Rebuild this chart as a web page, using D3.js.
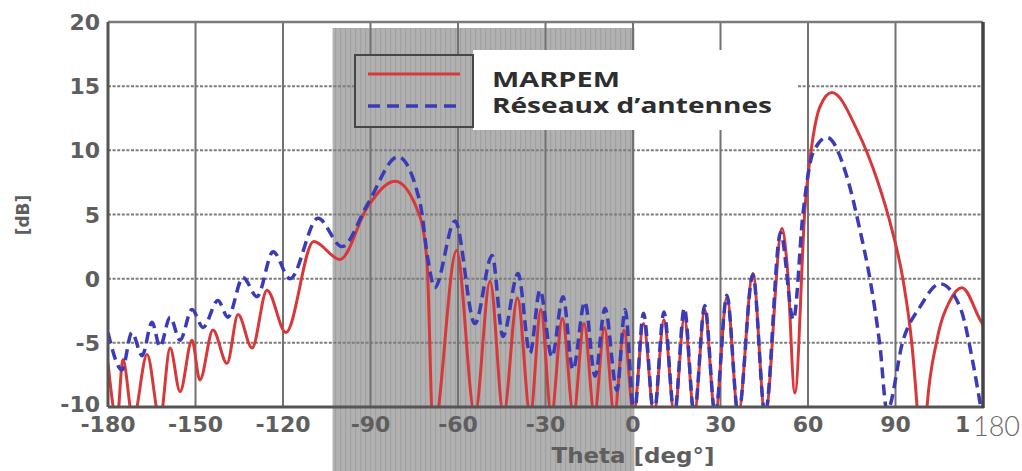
<!DOCTYPE html>
<html>
<head>
<meta charset="utf-8">
<script src="https://cdn.jsdelivr.net/npm/d3@7/dist/d3.min.js"></script>
<style>
  html, body { margin: 0; padding: 0; background: #fff; }
  svg { display: block; }
</style>
</head>
<body>
<svg id="chart" width="1022" height="471"></svg>
<script>
// Radiation pattern: MARPEM vs antenna array, gain [dB] against Theta [deg]
const thetaTicks = [-180, -150, -120, -90, -60, -30, 0, 30, 60, 90];
const thetaTickLabels = ["-180", "-150", "-120", "-90", "-60", "-30", "0", "30", "60", "90"];
const dbTicks = [-10, -5, 0, 5, 10, 15, 20];
const dbTickLabels = ["-10", "-5", "0", "5", "10", "15", "20"];
const thetaDomain = [-180, 120];
const dbDomain = [-10, 20];
const shadedSector = [-103, 0.5];
const seriesNames = ["MARPEM", "Réseaux d’antennes"];
const xCaption = "Theta [deg°]";
const yCaption = "[dB]";
const lastTickStub = "1";      // remaining digit of the original end label
const lastTickOverlay = "180";  // label written over the end of the axis

const marpemTheta = [-180, -176.9, -174.9, -171.4, -166.6, -162.2, -158.7, -155.3, -151.2, -148.5,
  -144.0, -139.2, -135.4, -130.6, -125.5, -119.0, -109.5, -100.5, -91.0, -81.6,
  -73.0, -70.6, -68.5, -60.5, -54.2, -49.0, -44.4, -39.6, -35.2, -31.6,
  -28.0, -24.2, -20.4, -16.8, -13.2, -9.8, -6.4, -3.1, 0.2, 3.6,
  7.2, 10.6, 14.2, 17.6, 21.0, 24.6, 28.2, 32.2, 36.1, 41.1,
  45.3, 51.1, 52.9, 55.5, 59.0, 61.7, 64.1, 68.2, 76.8, 83.7,
  88.8, 92.6, 95.7, 97.4, 99.1, 100.8, 104.2, 108.7, 112.8, 119.0, 120.0];
const marpemDb = [-6.6, -11, -6.3, -11, -5.9, -11, -5.4, -8.8, -4.8, -7.9,
  -4.0, -6.6, -2.8, -5.4, -0.9, -4.2, 2.9, 1.5, 5.6, 7.6,
  4.8, 1.2, -12, 2.2, -10.6, -0.2, -10.6, -1.5, -10.6, -2.4,
  -10.6, -3.1, -10.6, -3.5, -10.6, -3.8, -10.6, -4.0, -10.6, -3.5,
  -10.6, -3.2, -10.6, -3.0, -10.6, -2.4, -10.6, -1.4, -10.6, 0.4,
  -10.6, 3.9, 0.9, -8.9, 5.6, 11.0, 13.4, 14.5, 11.6, 7.7,
  3.8, -0.1, -5.3, -10, -16, -10, -4.8, -1.7, -0.7, -3.2, -3.6];

const reseauTheta = [-180, -175.2, -171.8, -168.3, -164.9, -162.2, -158.7, -155.3, -151.2, -147.4,
  -142.3, -138.9, -133.7, -128.9, -123.4, -117.6, -108.0, -99.8, -91.0, -80.6,
  -73.0, -70.3, -68.0, -61.0, -54.2, -48.3, -44.6, -39.4, -35.3, -31.9,
  -27.8, -24.0, -20.6, -16.5, -13.0, -9.6, -5.5, -2.7, 0.4, 3.6,
  7.2, 10.6, 14.2, 17.6, 21.0, 24.6, 28.2, 32.2, 36.1, 41.1,
  45.3, 50.6, 55.0, 58.3, 61.7, 66.5, 73.4, 77.8, 81.3, 84.7,
  87.1, 92.6, 98.4, 105.3, 112.1, 116.6, 119.0, 120.0];
const reseauDb = [-4.2, -7.1, -4.2, -6.0, -3.4, -5.3, -3.0, -4.8, -2.4, -3.8,
  -1.7, -3.0, 0.1, -1.4, 2.1, 0.0, 4.7, 2.5, 5.8, 9.5,
  5.9, 1.5, -0.7, 4.5, -3.5, 1.8, -4.5, 0.4, -5.8, -0.9,
  -6.1, -1.4, -7.1, -1.8, -7.6, -2.3, -8.7, -2.4, -10.6, -2.7,
  -10.6, -2.6, -10.6, -2.3, -10.6, -2.1, -10.6, -1.3, -10.6, 0.3,
  -10.6, 3.6, -3.2, 5.1, 9.8, 11.0, 7.9, 3.8, -0.1, -5.3,
  -10.3, -4.8, -2.2, -0.4, -2.2, -6.6, -9.7, -11];

const plot = { left: 108, right: 983, top: 22, bottom: 407 };
const svg = d3.select("#chart");

const x = d3.scaleLinear().domain(thetaDomain).range([plot.left, plot.right]);
const y = d3.scaleLinear().domain(dbDomain).range([plot.bottom, plot.top]);

const defs = svg.append("defs");
const stripes = defs.append("pattern")
  .attr("id", "sectorStripes").attr("patternUnits", "userSpaceOnUse")
  .attr("width", 5).attr("height", 10);
stripes.append("rect").attr("width", 5).attr("height", 10).attr("fill", "#b1b1b1");
stripes.append("rect").attr("width", 1.2).attr("height", 10).attr("fill", "#a1a1a1");

defs.append("clipPath").attr("id", "plotClip")
  .append("rect")
  .attr("x", plot.left).attr("y", plot.top)
  .attr("width", plot.right - plot.left).attr("height", plot.bottom - plot.top);

// shaded angular sector, running down past the axis labels
svg.append("rect")
  .attr("x", x(shadedSector[0])).attr("y", 28)
  .attr("width", x(shadedSector[1]) - x(shadedSector[0]))
  .attr("height", 471 - 28)
  .attr("fill", "url(#sectorStripes)");

// grid
const grid = svg.append("g");
grid.selectAll("line.h").data(dbTicks.filter(d => d > dbDomain[0] && d < dbDomain[1]))
  .join("line")
  .attr("x1", plot.left).attr("x2", plot.right)
  .attr("y1", d => y(d)).attr("y2", d => y(d))
  .attr("stroke", "#7c7c7c").attr("stroke-width", 2)
  .attr("stroke-dasharray", "3,1.6");
grid.selectAll("line.v").data(thetaTicks.filter(d => d > thetaDomain[0] && d < thetaDomain[1]))
  .join("line")
  .attr("x1", d => x(d)).attr("x2", d => x(d))
  .attr("y1", plot.top).attr("y2", plot.bottom)
  .attr("stroke", "#727272").attr("stroke-width", 2);

// curves
const line = d3.line()
  .x(d => x(d[0])).y(d => y(d[1]))
  .curve(d3.curveMonotoneX);
const curves = svg.append("g").attr("clip-path", "url(#plotClip)");
curves.append("path")
  .attr("d", line(d3.zip(marpemTheta, marpemDb)))
  .attr("fill", "none").attr("stroke", "#d7383a").attr("stroke-width", 3)
  .attr("stroke-linejoin", "round");
curves.append("path")
  .attr("d", line(d3.zip(reseauTheta, reseauDb)))
  .attr("fill", "none").attr("stroke", "#3b3bb8").attr("stroke-width", 3.5)
  .attr("stroke-dasharray", "11,6");

// frame
const frame = svg.append("g");
frame.append("line").attr("x1", plot.left).attr("x2", plot.right)
  .attr("y1", plot.top).attr("y2", plot.top).attr("stroke", "#7a7a7a").attr("stroke-width", 2.5);
frame.append("line").attr("x1", plot.left).attr("x2", plot.right + 1)
  .attr("y1", plot.bottom).attr("y2", plot.bottom).attr("stroke", "#555").attr("stroke-width", 3);
frame.append("line").attr("x1", plot.left).attr("x2", plot.left)
  .attr("y1", plot.top).attr("y2", plot.bottom).attr("stroke", "#555").attr("stroke-width", 3);
frame.append("line").attr("x1", plot.right).attr("x2", plot.right)
  .attr("y1", plot.top).attr("y2", plot.bottom + 1).attr("stroke", "#444").attr("stroke-width", 3.5);

// legend
svg.append("rect").attr("x", 473).attr("y", 50).attr("width", 324).attr("height", 80).attr("fill", "#fff");
const legend = svg.append("g");
legend.append("rect").attr("x", 355).attr("y", 55).attr("width", 118).attr("height", 72)
  .attr("fill", "url(#sectorStripes)").attr("stroke", "#464646").attr("stroke-width", 2);
legend.append("line").attr("x1", 368).attr("x2", 460).attr("y1", 74).attr("y2", 74)
  .attr("stroke", "#d7383a").attr("stroke-width", 3);
legend.append("line").attr("x1", 368).attr("x2", 460).attr("y1", 106).attr("y2", 106)
  .attr("stroke", "#3b3bb8").attr("stroke-width", 3.5).attr("stroke-dasharray", "12,7");
const legendWidths = [128, 280];
legend.selectAll("text").data(seriesNames).join("text")
  .attr("x", 492).attr("y", (d, i) => 87 + i * 26)
  .attr("font-family", "Open Sans, sans-serif").attr("font-weight", 700)
  .attr("font-size", 21).attr("fill", "#2e2e2e")
  .attr("textLength", (d, i) => legendWidths[i]).attr("lengthAdjust", "spacingAndGlyphs")
  .text(d => d);

// tick labels
const tickFont = "DejaVu Sans, sans-serif";
const tickFill = "#5e5e5e";
svg.append("g").selectAll("text").data(thetaTicks).join("text")
  .attr("x", d => x(d)).attr("y", 432)
  .attr("text-anchor", "middle")
  .attr("font-family", tickFont).attr("font-weight", 700).attr("font-size", 22)
  .attr("fill", tickFill)
  .text((d, i) => thetaTickLabels[i]);
svg.append("g").selectAll("text").data(dbTicks).join("text")
  .attr("x", 100).attr("y", d => y(d) + (d === dbDomain[0] ? 5 : 8))
  .attr("text-anchor", "end")
  .attr("font-family", tickFont).attr("font-weight", 700).attr("font-size", 22)
  .attr("fill", tickFill)
  .text((d, i) => dbTickLabels[i]);

// end of the theta axis: leftover digit, then the 180 written beside it
svg.append("text")
  .attr("x", 955).attr("y", 432)
  .attr("font-family", tickFont).attr("font-weight", 700).attr("font-size", 22)
  .attr("fill", tickFill)
  .text(lastTickStub);
svg.append("text")
  .attr("x", 973).attr("y", 436)
  .attr("font-family", "Lato, sans-serif").attr("font-weight", 300).attr("font-size", 28)
  .attr("fill", "#6a6a6a")
  .attr("textLength", 47).attr("lengthAdjust", "spacingAndGlyphs")
  .text(lastTickOverlay);

// axis captions
svg.append("text")
  .attr("x", 633).attr("y", 463).attr("text-anchor", "middle")
  .attr("font-family", tickFont).attr("font-weight", 700).attr("font-size", 21)
  .attr("fill", tickFill)
  .attr("textLength", 163).attr("lengthAdjust", "spacingAndGlyphs")
  .text(xCaption);
svg.append("text")
  .attr("transform", "translate(29,215) rotate(-90)")
  .attr("text-anchor", "middle")
  .attr("font-family", tickFont).attr("font-weight", 700).attr("font-size", 17)
  .attr("fill", tickFill)
  .text(yCaption);
</script>
</body>
</html>
